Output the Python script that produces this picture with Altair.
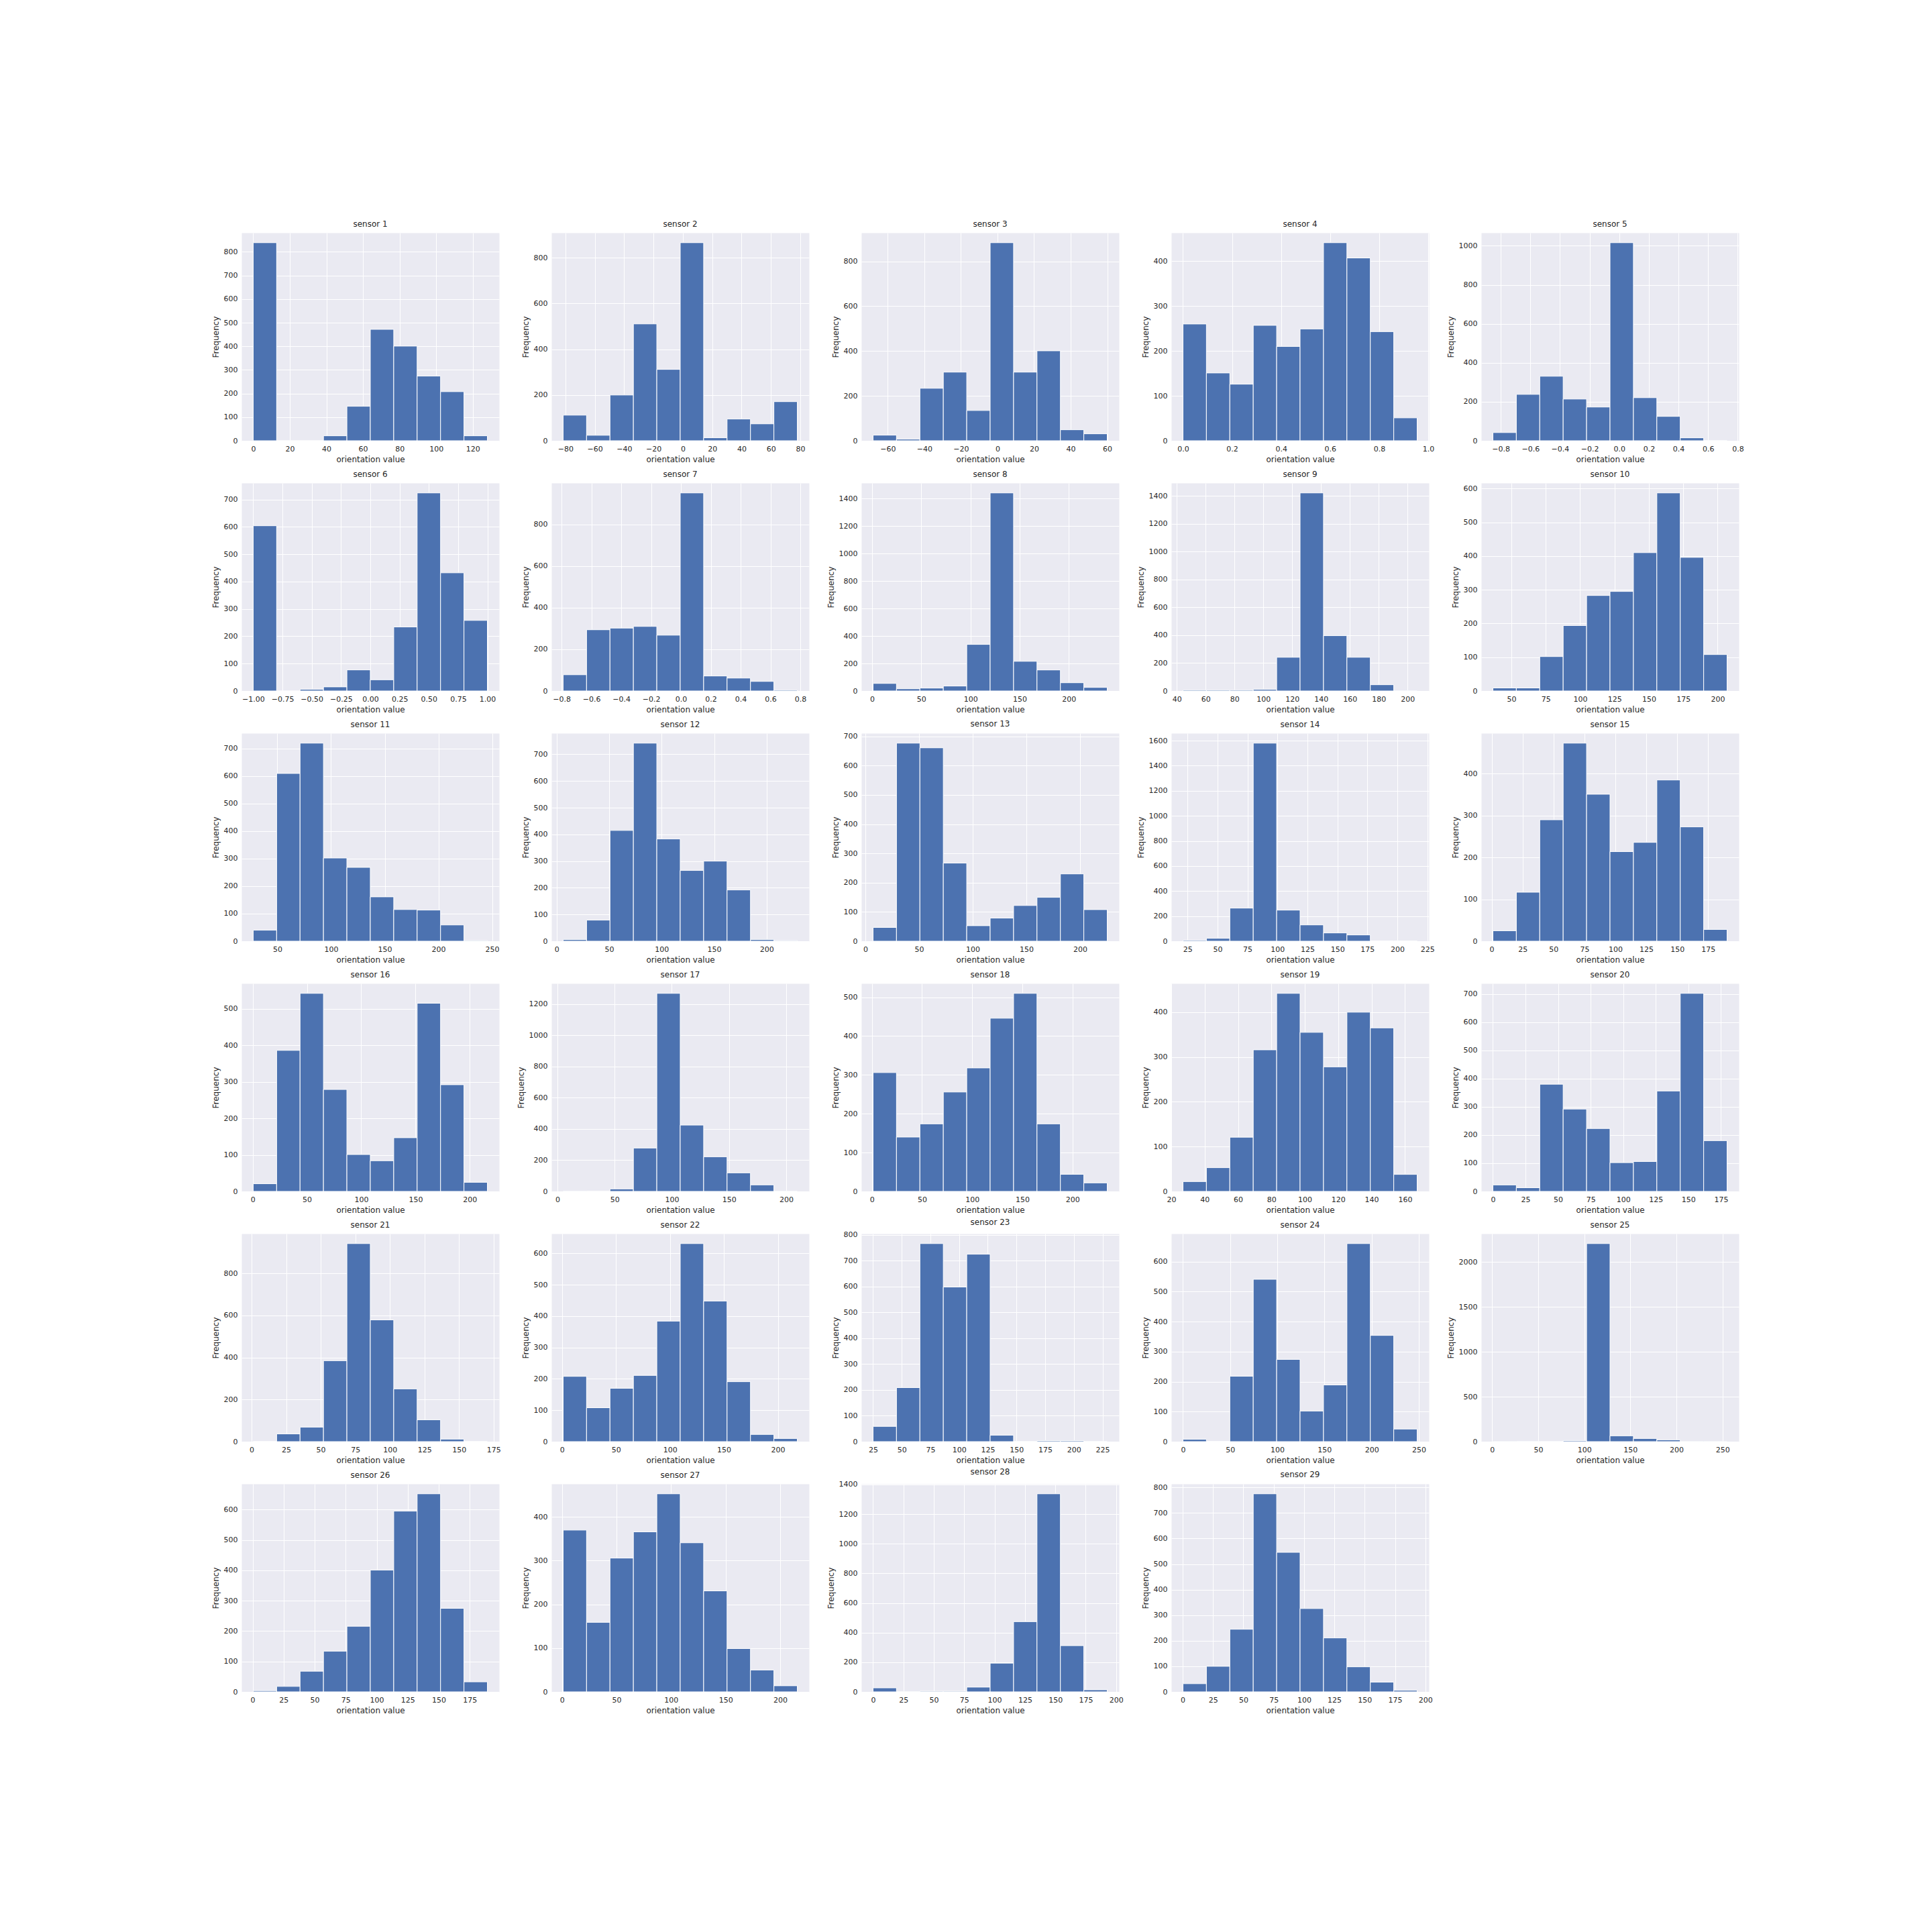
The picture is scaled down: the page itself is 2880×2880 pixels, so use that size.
import altair as alt
import numpy as np
import pandas as pd

BLUE = "#4C72B0"
TEXT = "#262626"

# histogram range (data min / max) of each sensor, 10 equal bins
x_min = [0, -81.6, -68, 0.0, -0.853, -1.0, -0.79, 1, 44.3, 36.6,
         27.5, 6.2, 7.1, 21.2, 1, 0.5, 5, 1.2, 27.0, 0,
         1.2, 1.1, 25, 0, 0.9, 0.5, 1.1, 0, 0.3]
x_max = [128, 78.0, 60, 0.955, 0.728, 1.0, 0.78, 239, 206.6, 206.9,
         245.6, 229.2, 225.3, 216.5, 190.3, 216.2, 209.7, 234.7, 167.3, 179.7,
         170.5, 218, 229.1, 248.3, 254.9, 189.2, 215.7, 192.7, 193.2]

counts = [
    [839, 0, 0, 21, 146, 472, 401, 274, 208, 21],
    [112, 24, 200, 511, 312, 866, 13, 95, 74, 171],
    [25, 7, 234, 306, 135, 883, 306, 401, 49, 31],
    [260, 151, 126, 257, 210, 249, 441, 407, 243, 51],
    [42, 238, 331, 214, 173, 1016, 221, 125, 15, 1],
    [604, 0, 6, 15, 77, 41, 234, 724, 432, 258],
    [78, 294, 302, 310, 268, 951, 72, 62, 46, 4],
    [55, 16, 21, 36, 339, 1442, 216, 153, 60, 26],
    [6, 6, 6, 11, 242, 1422, 397, 242, 45, 1],
    [9, 9, 102, 194, 283, 295, 410, 587, 396, 108],
    [40, 609, 719, 302, 268, 161, 115, 113, 59, 2],
    [6, 79, 415, 742, 383, 265, 300, 192, 6, 2],
    [47, 677, 661, 267, 53, 79, 122, 150, 230, 108],
    [7, 23, 264, 1580, 248, 130, 66, 50, 3, 2],
    [25, 117, 290, 473, 351, 214, 236, 385, 273, 28],
    [21, 386, 542, 279, 101, 84, 147, 515, 292, 25],
    [1, 0, 16, 278, 1269, 425, 222, 119, 42, 1],
    [306, 140, 174, 256, 318, 446, 510, 174, 44, 22],
    [22, 53, 121, 316, 442, 355, 278, 400, 365, 38],
    [23, 13, 380, 292, 223, 102, 106, 356, 702, 180],
    [1, 37, 69, 385, 942, 579, 251, 104, 12, 1],
    [208, 108, 170, 211, 384, 631, 448, 191, 23, 10],
    [59, 209, 766, 598, 725, 25, 1, 4, 4, 1],
    [8, 1, 218, 541, 274, 102, 189, 660, 354, 42],
    [1, 2, 2, 12, 2206, 65, 35, 20, 1, 1],
    [4, 18, 68, 134, 216, 401, 595, 652, 275, 33],
    [370, 159, 306, 366, 453, 341, 231, 99, 50, 14],
    [27, 1, 4, 4, 32, 194, 474, 1337, 312, 14],
    [32, 100, 245, 775, 546, 326, 211, 98, 38, 6],
]

x_ticks = [
    [0, 20, 40, 60, 80, 100, 120],
    [-80, -60, -40, -20, 0, 20, 40, 60, 80],
    [-60, -40, -20, 0, 20, 40, 60],
    [0.0, 0.2, 0.4, 0.6, 0.8, 1.0],
    [-0.8, -0.6, -0.4, -0.2, 0.0, 0.2, 0.4, 0.6, 0.8],
    [-1.0, -0.75, -0.5, -0.25, 0.0, 0.25, 0.5, 0.75, 1.0],
    [-0.8, -0.6, -0.4, -0.2, 0.0, 0.2, 0.4, 0.6, 0.8],
    [0, 50, 100, 150, 200],
    [40, 60, 80, 100, 120, 140, 160, 180, 200],
    [50, 75, 100, 125, 150, 175, 200],
    [50, 100, 150, 200, 250],
    [0, 50, 100, 150, 200],
    [0, 50, 100, 150, 200],
    [25, 50, 75, 100, 125, 150, 175, 200, 225],
    [0, 25, 50, 75, 100, 125, 150, 175],
    [0, 50, 100, 150, 200],
    [0, 50, 100, 150, 200],
    [0, 50, 100, 150, 200],
    [20, 40, 60, 80, 100, 120, 140, 160],
    [0, 25, 50, 75, 100, 125, 150, 175],
    [0, 25, 50, 75, 100, 125, 150, 175],
    [0, 50, 100, 150, 200],
    [25, 50, 75, 100, 125, 150, 175, 200, 225],
    [0, 50, 100, 150, 200, 250],
    [0, 50, 100, 150, 200, 250],
    [0, 25, 50, 75, 100, 125, 150, 175],
    [0, 50, 100, 150, 200],
    [0, 25, 50, 75, 100, 125, 150, 175, 200],
    [0, 25, 50, 75, 100, 125, 150, 175, 200],
]
x_fmt = ["d", "d", "d", ".1f", ".1f", ".2f", ".1f"] + ["d"] * 22
y_step = [100, 200, 200, 100, 200, 100, 200, 200, 200, 100,
          100, 100, 100, 200, 100, 100, 200, 100, 100, 100,
          200, 100, 100, 100, 500, 100, 100, 200, 100]

charts = []
for i in range(29):
    edges = np.linspace(x_min[i], x_max[i], 11)
    df = pd.DataFrame({"start": edges[:-1], "end": edges[1:], "count": counts[i]})
    span = x_max[i] - x_min[i]
    xdom = [x_min[i] - 0.05 * span, x_max[i] + 0.05 * span]
    ytop = max(counts[i]) * 1.05
    yvals = list(range(0, int(ytop) + 1, y_step[i]))
    ch = alt.Chart(df, title=alt.TitleParams(f"sensor {i + 1}")).mark_rect(
        color=BLUE, stroke="white", strokeWidth=1
    ).encode(
        x=alt.X("start:Q",
                scale=alt.Scale(domain=xdom, nice=False, zero=False),
                axis=alt.Axis(values=x_ticks[i], format=x_fmt[i], title="orientation value")),
        x2=alt.X2("end"),
        y=alt.Y("count:Q",
                scale=alt.Scale(domain=[0, ytop], nice=False, zero=True),
                axis=alt.Axis(values=yvals, format="d", title="Frequency")),
        y2=alt.datum(0),
    ).properties(width=384, height=310)
    charts.append(ch)

chart = alt.concat(
    *charts, columns=5, spacing={"row": 63, "column": 78}, bounds="flush"
).properties(
    padding={"left": 314, "top": 327, "right": 20, "bottom": 20},
    background="white",
).configure_view(
    fill="#EAEAF2", stroke="transparent"
).configure_axis(
    labelFont="DejaVu Sans", labelFontSize=11, labelColor=TEXT,
    titleFont="DejaVu Sans", titleFontSize=12, titleFontWeight="normal", titleColor=TEXT,
    domain=False, ticks=False, gridColor="white", gridWidth=1,
    labelPadding=6, titlePadding=5, labelFlush=False, labelOverlap=False,
).configure_title(
    font="DejaVu Sans", fontSize=12, fontWeight="normal", color=TEXT,
    offset=6, anchor="middle",
)

chart.save("out.html", embed_options={"renderer": "svg", "actions": False})
